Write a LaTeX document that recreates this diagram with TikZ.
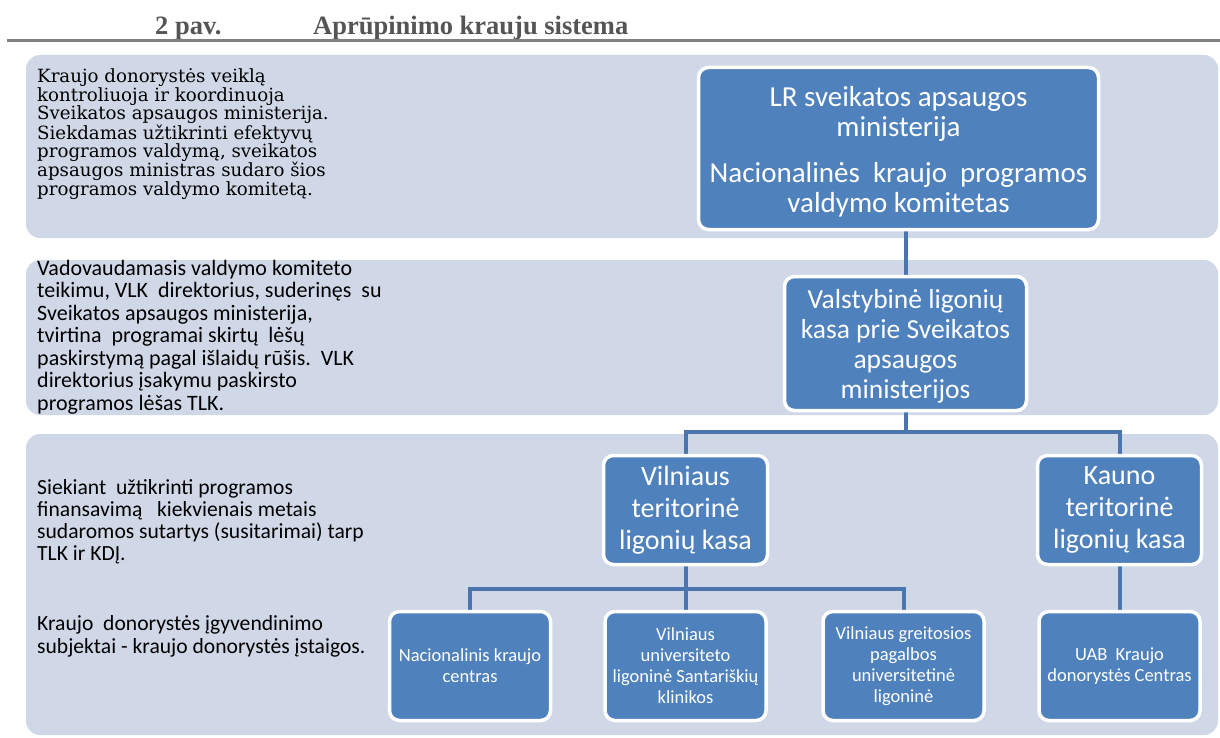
\documentclass[tikz,border=0pt]{standalone}
\usepackage{fontspec}
\setmainfont{Carlito}
\newfontfamily\serifcam{DejaVu Serif}
\newfontfamily\titlefont{Liberation Serif}
\definecolor{band}{HTML}{D0D8E8}
\definecolor{boxblue}{HTML}{4F81BD}
\definecolor{conn}{HTML}{4A76AD}
\definecolor{titlegray}{HTML}{555555}
\definecolor{rulegray}{HTML}{808080}
\pgfdeclarelayer{bands}
\pgfdeclarelayer{links}
\pgfsetlayers{bands,links,main}
\begin{document}
\begin{tikzpicture}[x=1pt,y=-1pt,
  bandfill/.style={fill=band, draw=none, rounded corners=14pt},
  orgbox/.style={fill=boxblue, draw=white, line width=3.5pt, rounded corners=10pt,
    text=white, align=center, inner sep=0pt},
  bigbox/.style={orgbox, minimum width=164pt, minimum height=109pt, font=\fontsize{28}{32}\selectfont},
  smallbox/.style={orgbox, minimum width=161pt, minimum height=109pt, font=\fontsize{18.5}{21}\selectfont},
  connector/.style={draw=conn, line width=4pt},
  sidetext/.style={anchor=north west, inner sep=0pt, align=left, text=black},
  titletext/.style={anchor=base west, inner sep=0pt, text=titlegray,
    font=\titlefont\bfseries\fontsize{26.5}{30}\selectfont}]
\useasboundingbox (0,0) rectangle (1220,738);

% title
\node[titletext] (tnum) at (155,35) {2 pav.};
\node[titletext] (tname) at (313,35) {Aprūpinimo krauju sistema};
\draw[rulegray, line width=3pt] (7,41) -- (1220,41);

% bands
\begin{pgfonlayer}{bands}
\path[bandfill] (26,55) rectangle (1218,238);
\path[bandfill] (26,260) rectangle (1218,415);
\path[bandfill] (26,434) rectangle (1218,735);
\end{pgfonlayer}

% side texts
\node[sidetext, font=\serifcam\fontsize{18.2}{18.3}\selectfont] (d1) at (37,68.7)
 {Kraujo donorystės veiklą\\kontroliuoja ir koordinuoja\\Sveikatos apsaugos ministerija.\\Siekdamas užtikrinti efektyvų\\programos valdymą, sveikatos\\apsaugos ministras sudaro šios\\programos valdymo komitetą.};
\node[sidetext, font=\fontsize{22}{22.5}\selectfont] (d2) at (37,260)
 {Vadovaudamasis valdymo komiteto\\teikimu, VLK\ \ direktorius, suderinęs\ \ su\\Sveikatos apsaugos ministerija,\\tvirtina\ \ programai skirtų\ \ lėšų\\paskirstymą pagal išlaidų rūšis.\ \ VLK\\direktorius įsakymu paskirsto\\programos lėšas TLK.};
\node[sidetext, font=\fontsize{21.6}{22}\selectfont] (d3) at (37,479.5)
 {Siekiant\ \ užtikrinti programos\\finansavimą\ \ \ kiekvienais metais\\sudaromos sutartys (susitarimai) tarp\\TLK ir KDĮ.};
\node[sidetext, font=\fontsize{21.6}{23}\selectfont] (d4) at (37,615)
 {Kraujo\ \ donorystės įgyvendinimo\\subjektai - kraujo donorystės įstaigos.};

% boxes
\node[orgbox, minimum width=400pt, minimum height=162pt, font=\fontsize{29}{30}\selectfont] (top) at (898.5,148.5)
 {\rule{0pt}{27pt}LR sveikatos apsaugos\\ministerija\\[16pt]Nacionalinės\ \ kraujo\ \ programos\\valdymo komitetas};
\node[orgbox, minimum width=242pt, minimum height=134pt, font=\fontsize{27.5}{30}\selectfont] (vlk) at (905.5,343.5)
 {\rule{0pt}{25pt}Valstybinė ligonių\\kasa prie Sveikatos\\apsaugos\\ministerijos};
\node[bigbox] (tlk1) at (685.5,510) {Vilniaus\\teritorinė\\ligonių kasa};
\node[bigbox] (tlk2) at (1119.5,510) {Kauno\\teritorinė\\ligonių kasa};
\node[smallbox] (b1) at (470,666) {Nacionalinis kraujo\\centras};
\node[smallbox] (b2) at (685.5,666) {Vilniaus\\universiteto\\ligoninė Santariškių\\klinikos};
\node[smallbox] (b3) at (903.5,666) {Vilniaus greitosios\\pagalbos\\universitetinė\\ligoninė};
\node[smallbox] (b4) at (1119.5,666) {UAB\ \ Kraujo\\donorystės Centras};

% connectors
\coordinate (j1) at ([yshift=-20pt]vlk.south);
\coordinate (j2) at ([yshift=-23pt]tlk1.south);
\begin{pgfonlayer}{links}
\draw[connector] (vlk.north) -- (vlk.north |- top.south);
\draw[connector] (vlk.south) -- (j1);
\draw[connector] (j1) -| (tlk1.north);
\draw[connector] (j1) -| (tlk2.north);
\draw[connector] (tlk1.south) -- (b2.north);
\draw[connector] (j2) -| (b1.north);
\draw[connector] (j2) -| (b3.north);
\draw[connector] (tlk2.south) -- (b4.north);
\end{pgfonlayer}
\end{tikzpicture}
\end{document}
